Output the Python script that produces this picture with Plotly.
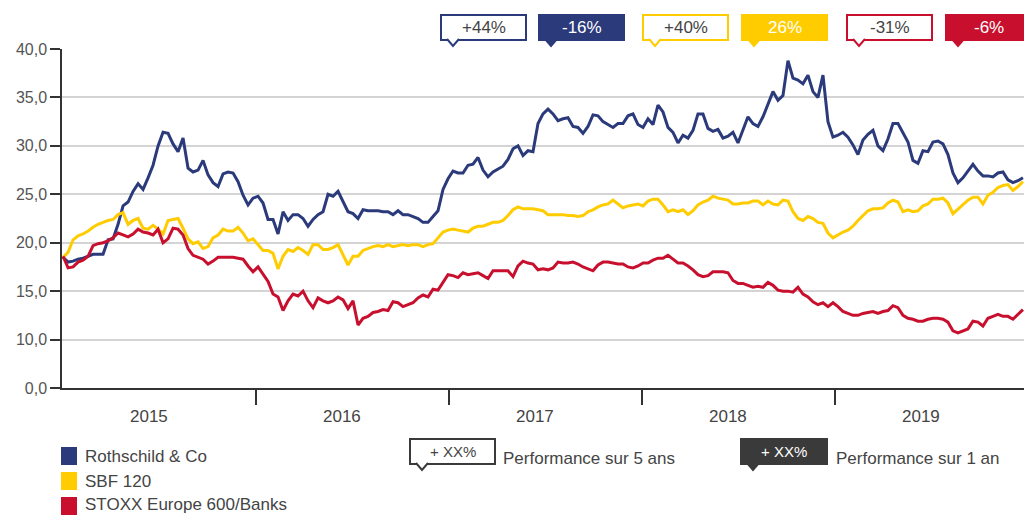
import pandas as pd
import plotly.graph_objects as go

# ---------------- data ----------------
dates = pd.date_range("2015-01-01", "2019-12-22", periods=193)

rothschild = [
    18.5, 18.0, 18.1, 18.3, 18.4, 18.6, 18.8, 18.8, 18.8, 20.3, 20.4, 21.9, 23.8, 24.2, 25.3, 26.1,
    25.5, 26.7, 28.0, 30.0, 31.4, 31.3, 30.2, 29.4, 30.8, 27.7, 27.3, 27.5, 28.5, 27.0, 26.2, 25.8,
    27.1, 27.3, 27.2, 26.3, 24.9, 23.9, 24.6, 24.8, 24.1, 22.4, 22.4, 20.9, 23.2, 22.3, 22.9, 22.9,
    22.5, 21.7, 22.4, 22.9, 23.2, 25.0, 24.8, 25.3, 24.2, 23.2, 23.0, 22.5, 23.4, 23.3, 23.3, 23.3,
    23.2, 23.2, 22.9, 23.3, 22.9, 22.9, 22.7, 22.5, 22.1, 22.1, 22.7, 23.3, 25.5, 26.6, 27.4, 27.2,
    27.2, 28.0, 28.1, 28.8, 27.5, 26.8, 27.3, 27.6, 27.9, 28.6, 29.7, 30.0, 29.0, 29.5, 29.4, 32.3,
    33.3, 33.8, 33.3, 32.6, 32.8, 32.9, 32.0, 31.9, 31.3, 32.0, 33.2, 33.1, 32.5, 32.2, 31.9, 32.3,
    32.3, 33.1, 33.3, 32.2, 31.9, 32.8, 32.2, 34.2, 33.5, 31.9, 31.4, 30.3, 31.1, 30.8, 31.6, 33.3,
    33.3, 31.8, 31.5, 31.7, 30.8, 31.0, 31.4, 30.3, 31.6, 33.0, 32.3, 32.0, 33.0, 34.4, 35.6, 34.7,
    35.2, 38.8, 37.0, 36.8, 36.4, 37.3, 35.6, 35.0, 37.3, 32.5, 30.9, 31.1, 31.4, 30.9, 30.1, 29.1,
    30.6, 31.2, 31.6, 30.0, 29.5, 30.7, 32.3, 32.3, 31.3, 30.4, 28.5, 28.2, 29.5, 29.4, 30.4, 30.5,
    30.2, 29.1, 27.2, 26.2, 26.7, 27.4, 28.1, 27.4, 26.9, 26.9, 26.8, 27.2, 27.3, 26.5, 26.2, 26.4, 26.7,
]

sbf120 = [
    18.5, 19.0, 20.3, 20.7, 20.9, 21.2, 21.6, 21.9, 22.1, 22.3, 22.4, 22.9, 23.1, 21.9, 22.3, 22.5,
    21.5, 21.4, 21.8, 21.4, 20.9, 22.3, 22.4, 22.5, 21.5, 20.4, 19.9, 20.1, 19.4, 19.6, 20.5, 20.8,
    21.4, 21.2, 21.2, 21.6, 21.0, 20.2, 20.4, 19.8, 19.2, 19.2, 18.9, 17.3, 18.6, 19.3, 19.1, 19.5,
    19.2, 18.8, 19.8, 19.8, 19.3, 19.3, 19.5, 19.8, 18.7, 17.7, 18.6, 18.6, 19.2, 19.4, 19.6, 19.7,
    19.6, 19.8, 19.6, 19.7, 19.8, 19.7, 19.8, 19.8, 19.6, 19.8, 19.9, 20.5, 21.1, 21.3, 21.4, 21.3,
    21.2, 21.1, 21.5, 21.7, 21.7, 21.9, 22.1, 22.1, 22.3, 22.8, 23.4, 23.7, 23.5, 23.5, 23.5, 23.4,
    23.3, 22.9, 22.9, 22.9, 22.9, 22.8, 22.8, 22.7, 22.8, 23.2, 23.4, 23.7, 23.9, 24.0, 24.4, 24.0,
    23.6, 23.8, 23.9, 24.0, 23.8, 24.3, 24.5, 24.5, 23.9, 23.2, 23.4, 23.2, 23.4, 22.9, 23.3, 23.9,
    24.2, 24.4, 24.8, 24.6, 24.5, 24.4, 24.0, 24.0, 24.1, 24.1, 24.3, 24.3, 23.9, 24.3, 24.0, 23.9,
    24.4, 24.3, 23.2, 22.5, 22.3, 22.7, 22.5, 22.1, 22.0, 21.0, 20.5, 20.8, 21.1, 21.3, 21.7, 22.3,
    22.8, 23.3, 23.5, 23.5, 23.6, 24.1, 24.4, 24.2, 23.2, 23.4, 23.2, 23.3, 23.8, 24.0, 24.5, 24.5,
    24.6, 24.1, 23.0, 23.5, 23.9, 24.4, 24.7, 24.7, 24.0, 24.9, 25.2, 25.7, 25.9, 26.0, 25.4, 25.8, 26.3,
]

stoxx_banks = [
    18.6, 17.4, 17.5, 18.0, 18.2, 18.6, 19.7, 19.9, 20.0, 20.2, 20.5, 21.0, 20.8, 20.6, 20.9, 21.4,
    21.1, 21.0, 20.8, 21.4, 20.0, 20.4, 21.5, 21.4, 20.8, 19.4, 18.7, 18.5, 18.3, 17.8, 18.1, 18.5,
    18.5, 18.5, 18.5, 18.4, 18.3, 17.6, 17.0, 17.5, 16.8, 16.0, 14.7, 14.4, 13.0, 14.0, 14.7, 14.5,
    15.0, 14.0, 13.3, 14.3, 14.0, 13.8, 14.0, 14.4, 14.1, 13.2, 14.0, 11.5, 12.2, 12.4, 12.8, 12.9,
    13.1, 13.0, 13.9, 13.8, 13.4, 13.6, 13.8, 14.3, 14.6, 14.4, 15.2, 15.1, 15.9, 16.7, 16.6, 16.4,
    16.9, 16.7, 16.8, 16.9, 16.6, 16.3, 17.1, 17.1, 17.1, 17.1, 16.5, 17.6, 18.1, 17.9, 17.8, 17.2,
    17.3, 17.2, 17.4, 18.0, 17.9, 17.9, 18.0, 17.8, 17.5, 17.3, 17.1, 17.7, 18.0, 18.0, 17.9, 17.8,
    17.8, 17.5, 17.4, 17.6, 17.9, 17.9, 18.2, 18.4, 18.4, 18.7, 18.3, 17.9, 17.9, 17.6, 17.2, 16.7,
    16.5, 16.6, 17.0, 17.0, 17.0, 16.9, 16.1, 15.8, 15.8, 15.6, 15.4, 15.5, 15.4, 15.9, 15.6, 15.1,
    15.0, 15.0, 14.9, 15.4, 14.7, 14.4, 13.9, 13.6, 13.8, 13.4, 13.8, 13.4, 12.9, 12.7, 12.5, 12.5,
    12.7, 12.8, 12.9, 12.7, 12.9, 13.0, 13.5, 13.3, 12.5, 12.2, 12.1, 11.9, 11.9, 12.1, 12.2, 12.2,
    12.1, 11.8, 10.9, 10.7, 10.9, 11.1, 11.9, 11.8, 11.4, 12.2, 12.4, 12.6, 12.4, 12.4, 12.1, 12.6, 13.1,
]

series_names = ["Rothschild & Co", "SBF 120", "STOXX Europe 600/Banks"]
years = ["2015", "2016", "2017", "2018", "2019"]
y_tickvals = [5, 10, 15, 20, 25, 30, 35, 40]
y_ticktext = ["0,0", "10,0", "15,0", "20,0", "25,0", "30,0", "35,0", "40,0"]
perf_5y = ["+44%", "+40%", "-31%"]
perf_1y = ["-16%", "26%", "-6%"]

# ---------------- styling ----------------
NAVY = "#2b3a7a"
YELLOW = "#ffcc00"
RED = "#c8102e"
DARK = "#3a3a3a"
colors = [NAVY, YELLOW, RED]
FONT = "Liberation Sans, Arial, sans-serif"

W, H = 1024, 515
L, R, T, B = 62, 1024, 49, 388  # plot area in pixels


def px(x):
    return (x - L) / (R - L)


def py(y):
    return (B - y) / (B - T)


fig = go.Figure()
for name, vals, col in zip(series_names, [rothschild, sbf120, stoxx_banks], colors):
    fig.add_trace(go.Scatter(x=dates, y=vals, mode="lines", name=name,
                             line=dict(color=col, width=3), showlegend=False))

shapes = []
annotations = []


def badge(x0, y0, w, h, color, filled, text, textcolor, tsize=16):
    fill = color if filled else "white"
    shapes.append(dict(type="rect", xref="paper", yref="paper",
                       x0=px(x0), x1=px(x0 + w), y0=py(y0 + h), y1=py(y0),
                       line=dict(color=color, width=2), fillcolor=fill, layer="above"))
    path = "M {:.5f},{:.5f} L {:.5f},{:.5f} L {:.5f},{:.5f}".format(
        px(x0 + 6), py(y0 + h - 1), px(x0 + 12), py(y0 + h + 6), px(x0 + 18), py(y0 + h - 1))
    shapes.append(dict(type="path", xref="paper", yref="paper", path=path,
                       line=dict(color=color, width=2), fillcolor=fill, layer="above"))
    annotations.append(dict(xref="paper", yref="paper", x=px(x0 + w / 2), y=py(y0 + h / 2),
                            text=text, showarrow=False, xanchor="center", yanchor="middle",
                            font=dict(family=FONT, size=tsize, color=textcolor)))


# top performance badges
badge_x = [441, 539, 643, 742, 847, 946]
for i in range(3):
    badge(badge_x[2 * i], 15, 85, 25, colors[i], False, perf_5y[i], "#444444", 17)
    badge(badge_x[2 * i + 1], 15, 85, 25, colors[i], True, perf_1y[i], "white", 17)

# bottom explanation badges
badge(410, 439, 85, 25, DARK, False, "+ XX%", "#444444", 15)
badge(741, 439, 86, 25, DARK, True, "+ XX%", "white", 15)
annotations.append(dict(xref="paper", yref="paper", x=px(501), y=py(458), text="Performance sur 5 ans",
                        showarrow=False, xanchor="left", yanchor="middle",
                        font=dict(family=FONT, size=17, color="#444444")))
annotations.append(dict(xref="paper", yref="paper", x=px(834), y=py(458), text="Performance sur 1 an",
                        showarrow=False, xanchor="left", yanchor="middle",
                        font=dict(family=FONT, size=17, color="#444444")))

# legend squares
leg_y = [447, 472, 497]
leg_text_y = [456, 481, 504]
for name, col, yy, ty in zip(series_names, colors, leg_y, leg_text_y):
    shapes.append(dict(type="rect", xref="paper", yref="paper",
                       x0=px(61), x1=px(77), y0=py(yy + 18), y1=py(yy),
                       line=dict(width=0), fillcolor=col, layer="above"))
    annotations.append(dict(xref="paper", yref="paper", x=px(83), y=py(ty), text=name,
                            showarrow=False, xanchor="left", yanchor="middle",
                            font=dict(family=FONT, size=17, color="#444444")))

# year labels
for yr in years:
    annotations.append(dict(xref="x", yref="paper", x=yr + "-06-12", y=py(416), text=yr,
                            showarrow=False, xanchor="center", yanchor="middle",
                            font=dict(family=FONT, size=17, color="#444444")))

fig.update_layout(
    width=W, height=H, autosize=False,
    margin=dict(l=L, r=W - R, t=T, b=H - B, pad=0),
    paper_bgcolor="white", plot_bgcolor="white",
    shapes=shapes, annotations=annotations,
    xaxis=dict(type="date", range=["2014-12-30", "2019-12-24"],
               tickvals=["2016-01-01", "2017-01-01", "2018-01-01", "2019-01-01"],
               showticklabels=False, ticks="outside", ticklen=15, tickwidth=1.5, tickcolor="#333333",
               showline=True, linecolor="#333333", linewidth=1.5, showgrid=False, zeroline=False),
    yaxis=dict(range=[5, 40], tickvals=y_tickvals, ticktext=y_ticktext,
               ticks="outside", ticklen=10, tickwidth=1.5, tickcolor="#333333",
               showline=True, linecolor="#333333", linewidth=1.5,
               showgrid=True, gridcolor="#d4d4d4", gridwidth=1.5, zeroline=False,
               tickfont=dict(family=FONT, size=16, color="#555555")),
    showlegend=False,
)

fig.write_html("out.html", config={"displayModeBar": False},
               post_script="document.body.style.margin='0';")
